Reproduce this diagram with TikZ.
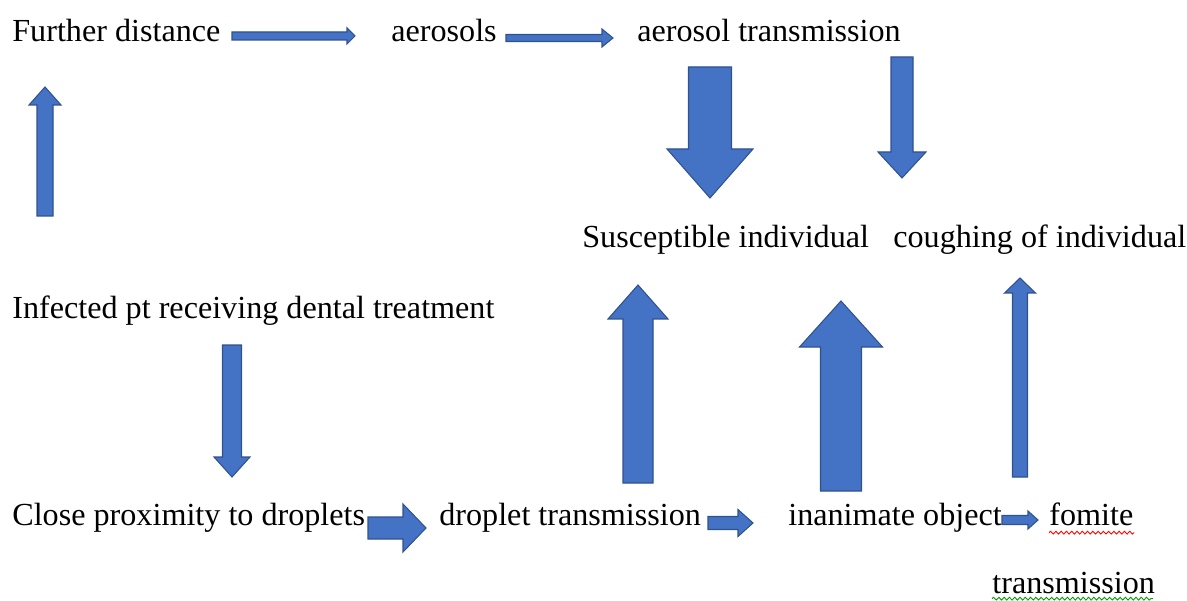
\documentclass[tikz,border=0pt]{standalone}
\usepackage{fontspec}
\setmainfont{Liberation Serif}
\usetikzlibrary{decorations.pathmorphing}

\definecolor{arrowfill}{HTML}{4472C4}
\definecolor{arrowline}{HTML}{2F528F}

\tikzset{
	blockarrow/.style={fill=arrowfill, draw=arrowline, line width=0.6pt, line join=miter},
	label/.style={anchor=base west, inner sep=0pt, font=\fontsize{18.3}{22}\selectfont},
	spell/.style={decorate, decoration={snake, amplitude=0.8pt, segment length=3pt}, line width=0.5pt}
}

% block arrow, vertical: centre x, tail y, head y, tip y, half shaft, half head
\newcommand{\blkv}[6]{\draw[blockarrow] (#1-#5,#2) -- (#1-#5,#3) -- (#1-#6,#3) -- (#1,#4) -- (#1+#6,#3) -- (#1+#5,#3) -- (#1+#5,#2) -- cycle;}
% block arrow, horizontal: centre y, tail x, head x, tip x, half shaft, half head
\newcommand{\blkh}[6]{\draw[blockarrow] (#2,#1-#5) -- (#3,#1-#5) -- (#3,#1-#6) -- (#4,#1) -- (#3,#1+#6) -- (#3,#1+#5) -- (#2,#1+#5) -- cycle;}

\begin{document}
\begin{tikzpicture}[x=0.02cm, y=-0.02cm]
	\useasboundingbox (0,0) rectangle (1187,601);

	% top row
	\node[label] (further) at (12,42) {Further distance};
	\node[label] (aero) at (391,42) {aerosols};
	\node[label] (aerotrans) at (637,42) {aerosol transmission};
	\blkh{36}{232}{347}{355}{4}{8}
	\blkh{38}{506}{602}{613}{3.5}{9}

	% middle
	\node[label] (suscept) at (582,248) {Susceptible individual};
	\node[label] (cough) at (893,248) {coughing of individual};
	\node[label] (infected) at (12,318) {Infected pt receiving dental treatment};
	\blkv{710}{67}{149}{198}{21.5}{43}
	\blkv{902}{57}{152}{178}{11}{24}
	\blkv{45}{216}{105}{87}{8}{16}
	\blkv{232}{345}{457}{477}{9.5}{18}
	\blkv{638}{483}{319}{285}{15}{30}
	\blkv{841}{491}{347}{301}{20.5}{41.5}
	\blkv{1020}{477}{293}{278}{7.5}{15.5}

	% bottom row
	\node[label] (close) at (12,525) {Close proximity to droplets};
	\node[label] (droptrans) at (439,525) {droplet transmission};
	\node[label] (object) at (788,525) {inanimate object};
	\node[label] (fomite) at (1049,525) {fomite};
	\node[label] (fomtrans) at (992,593) {transmission};
	\blkh{528}{368}{403}{426}{11}{24}
	\blkh{523}{708}{738}{753}{6.5}{13.5}
	\blkh{520}{1002}{1028}{1038}{4.5}{9}

	\draw[spell, red] (fomite.south west) ++(0,7) -- ++(85,0);
	\draw[spell, green!60!black] (fomtrans.south west) ++(0,5) -- ++(161,0);

\end{tikzpicture}
\end{document}
